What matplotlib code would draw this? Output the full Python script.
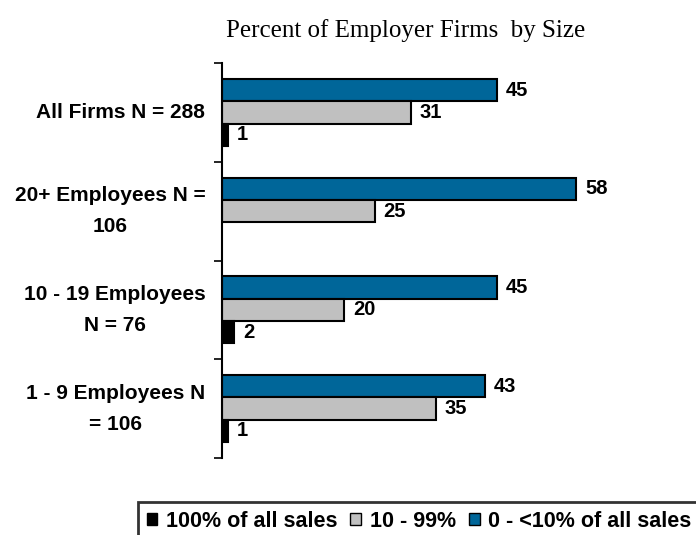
import matplotlib
matplotlib.use("Agg")
from matplotlib import pyplot as plt
from matplotlib.patches import Patch
import numpy as np

categories = ["All Firms N = 288", "20+ Employees N =\n106", "10 - 19 Employees\nN = 76", "1 - 9 Employees N\n= 106"]
series_names = ["0 - <10% of all sales", "10 - 99%", "100% of all sales"]
low_share = [45, 58, 45, 43]
mid_share = [31, 25, 20, 35]
full_share = [1, 0, 2, 1]
colors = ["#006699", "#C0C0C0", "#000000"]

plt.rcParams["font.family"] = ["Liberation Sans", "DejaVu Sans"]

fig = plt.figure(figsize=(6.96, 5.35), dpi=100)
ax = fig.add_axes([222 / 696, 1 - 458 / 535, (596 - 222) / 696, (458 - 63) / 535])

bar_h = 0.226
y = np.arange(len(categories))
offsets = [-bar_h, 0, bar_h]
for vals, off, col in zip([low_share, mid_share, full_share], offsets, colors):
    for yi, v in zip(y, vals):
        if not v:
            continue
        ax.barh(yi + off, v, height=bar_h, color=col, edgecolor="black", linewidth=1.5)
        ax.text(v + 1.4, yi + off, f"{v}", va="center", ha="left",
                fontsize=14.5, fontweight="bold", clip_on=False)

ax.set_xlim(0, 61.2)
ax.set_ylim(len(categories) - 0.5, -0.5)

for side in ["top", "right", "bottom"]:
    ax.spines[side].set_visible(False)
ax.spines["left"].set_linewidth(1.5)
ax.set_xticks([])

# boundary ticks (major) and centred category labels (minor)
ax.set_yticks(np.arange(-0.5, len(categories), 1.0))
ax.set_yticklabels([])
ax.tick_params(axis="y", which="major", length=6, width=1.2, direction="out")
ax.set_yticks(y, minor=True)
ax.set_yticklabels(categories, minor=True, fontsize=15, fontweight="bold",
                   multialignment="center", linespacing=1.8)
ax.tick_params(axis="y", which="minor", length=0, pad=12)
for lbl in ax.get_yticklabels(minor=True):
    lbl.set_verticalalignment("center")

fig.text(406 / 696, 1 - 31 / 535, "Percent of Employer Firms  by Size",
         family=["Liberation Serif", "DejaVu Serif"], fontsize=18, ha="center", va="center")

handles = [Patch(facecolor=colors[2], edgecolor="black", label=series_names[2]),
           Patch(facecolor=colors[1], edgecolor="black", label=series_names[1]),
           Patch(facecolor=colors[0], edgecolor="black", label=series_names[0])]
leg = fig.legend(handles=handles, loc="upper left", bbox_to_anchor=(138 / 696, 1 - 502 / 535),
                 ncol=3, frameon=True, fancybox=False, handlelength=0.5, handleheight=0.5,
                 handletextpad=0.4, columnspacing=0.6, borderpad=0.4, borderaxespad=0,
                 prop={"weight": "bold", "size": 15.5})
leg.get_frame().set_edgecolor("black")
leg.get_frame().set_linewidth(2)

fig.savefig("out.png", dpi=100)
